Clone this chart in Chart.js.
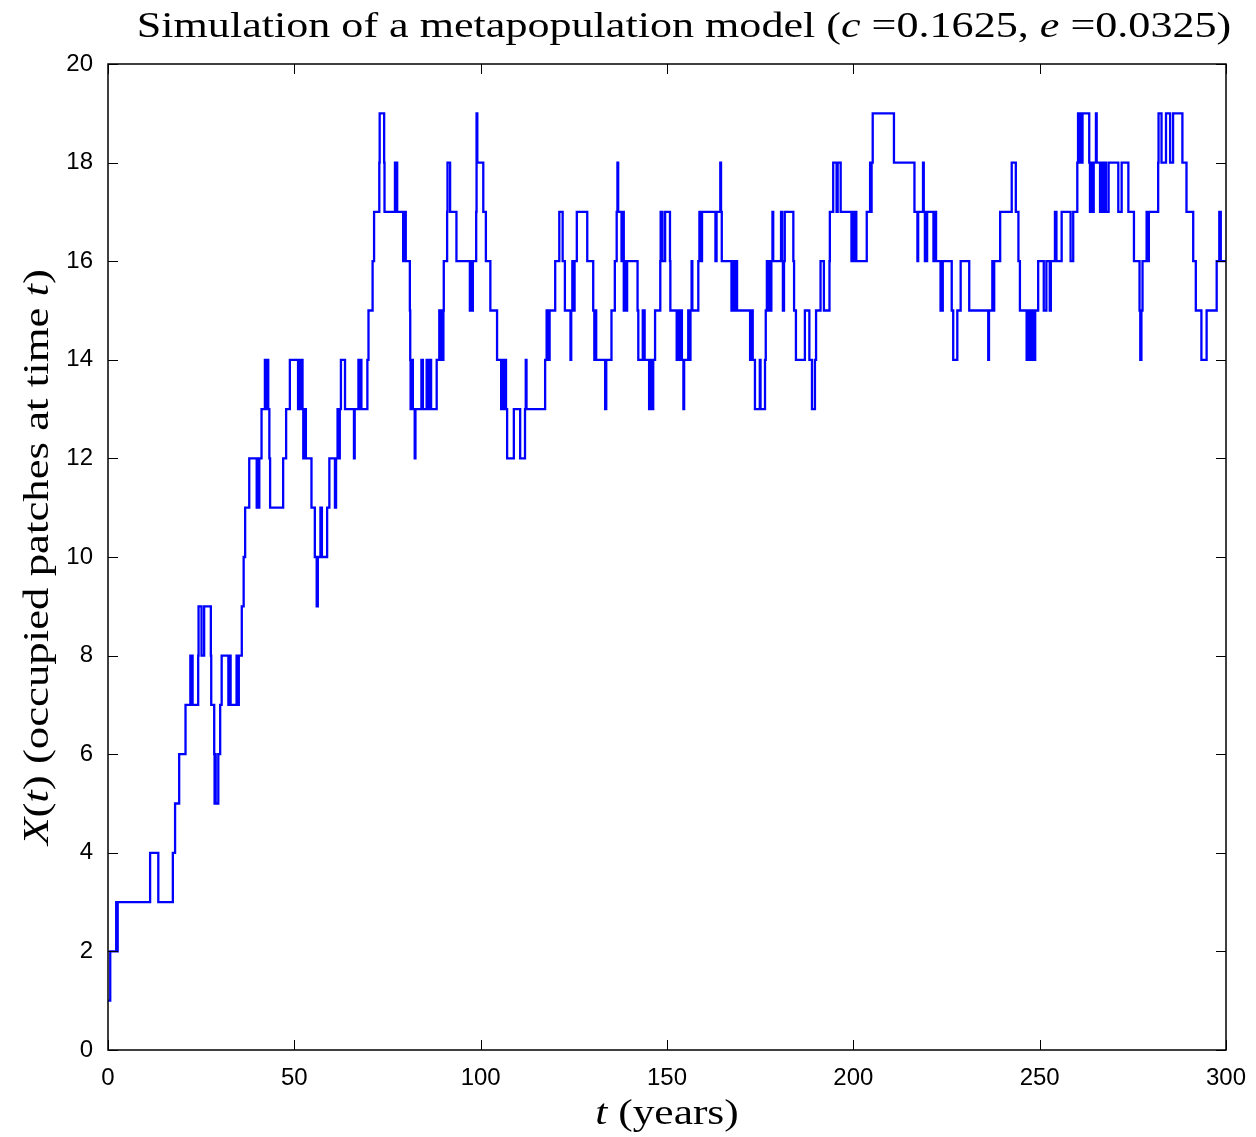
<!DOCTYPE html>
<html>
<head>
<meta charset="utf-8">
<script src="https://cdn.jsdelivr.net/npm/chart.js@4.4.1/dist/chart.umd.min.js"></script>
<style>
  body { margin: 0; background: #fff; }
  #wrap { width: 1256px; height: 1137px; position: relative; }
</style>
</head>
<body>
<div id="wrap"><canvas id="metaChart"></canvas></div>
<script>
// event times (years) and number of occupied patches after each event
var eventTimes = [
  0, 0.6, 2.2, 2.4, 2.6, 11.3, 13.5, 17.4, 18.0, 19.1, 20.8, 22.1, 22.3, 22.5, 22.7,
  24.2, 24.3, 25.1, 25.8, 27.6, 27.7, 28.5, 28.6, 28.8, 28.9, 29.6, 30.1, 30.5,
  32.3, 32.6, 32.9, 34.5, 34.8, 35.1, 35.9, 36.4, 36.8, 37.9, 39.9, 40.2, 40.4,
  40.6, 41.2, 42.1, 42.4, 42.6, 43.0, 43.3, 43.5, 47.0, 47.8, 48.8, 51.0, 51.3,
  51.6, 51.9, 52.2, 52.4, 52.8, 53.1, 54.6, 55.5, 56.0, 56.3, 57.0, 57.4, 58.8,
  59.4, 60.9, 61.2, 61.6, 61.9, 62.2, 62.5, 63.6, 66.0, 66.2, 67.2, 67.5, 67.8,
  68.0, 69.6, 69.9, 71.0, 71.4, 72.8, 72.9, 74.1, 74.2, 77.0, 77.2, 77.4, 77.6,
  79.2, 79.5, 79.9, 81.0, 81.1, 81.2, 81.5, 81.8, 82.3, 82.5, 84.1, 84.5, 85.5,
  85.9, 86.4, 86.7, 88.2, 88.9, 89.2, 89.5, 89.8, 90.0, 90.1, 91.0, 91.1, 91.8,
  93.5, 97.1, 97.4, 97.7, 97.9, 98.8, 98.9, 99.1, 100.7, 101.4, 102.6, 104.4,
  105.5, 105.8, 106.1, 106.4, 106.8, 107.1, 108.9, 110.6, 111.9, 112.1, 112.3,
  117.3, 117.7, 118.1, 118.5, 120.0, 121.1, 122.0, 122.6, 124.1, 124.3, 124.6,
  124.9, 125.2, 125.8, 128.6, 130.2, 130.5, 130.8, 131.0, 133.4, 133.7, 135.1,
  136.0, 136.5, 136.7, 136.9, 137.8, 138.1, 138.4, 138.8, 139.1, 139.3, 142.1,
  142.3, 143.5, 144.0, 145.2, 145.5, 145.9, 146.3, 146.8, 148.2, 148.3, 148.8,
  149.5, 150.8, 150.9, 152.6, 152.9, 153.3, 153.7, 154.0, 154.4, 154.6, 155.7,
  156.0, 156.3, 156.6, 156.8, 158.4, 158.7, 159.0, 159.4, 163.0, 163.3, 164.3,
  164.5, 164.7, 167.3, 167.6, 168.0, 168.4, 168.8, 172.3, 172.6, 173.0, 173.6,
  174.9, 175.1, 176.3, 176.5, 176.8, 177.1, 177.4, 177.7, 178.0, 178.3, 178.5,
  180.6, 180.9, 181.1, 181.4, 181.6, 183.9, 184.1, 184.6, 187.0, 188.2, 188.9,
  189.7, 190.0, 191.2, 192.1, 193.6, 193.7, 194.6, 195.5, 195.8, 196.6, 199.5,
  199.8, 200.2, 200.5, 200.8, 203.6, 204.5, 204.7, 204.9, 205.2, 210.9, 216.4,
  217.2, 217.4, 218.7, 218.9, 219.2, 219.8, 221.5, 221.8, 222.2, 223.4, 224.0,
  226.4, 226.8, 227.9, 228.8, 231.1, 236.2, 236.4, 237.3, 237.6, 237.8, 239.4,
  242.5, 243.6, 244.3, 244.7, 246.5, 247.0, 247.5, 248.0, 248.5, 248.8, 249.6,
  251.1, 251.8, 252.7, 253.0, 254.1, 254.5, 255.9, 258.3, 259.0, 260.1, 260.3,
  260.6, 260.9, 261.2, 261.5, 263.3, 263.5, 263.9, 264.2, 264.5, 265.1, 265.3,
  266.2, 266.6, 267.0, 267.4, 267.8, 268.5, 271.1, 272.0, 273.8, 275.3, 276.8,
  277.0, 277.3, 277.6, 278.7, 279.0, 279.3, 281.8, 281.9, 282.7, 283.9, 285.0,
  285.8, 288.3, 289.4, 291.2, 291.9, 293.4, 294.8, 297.5, 298.2, 298.6, 300
];
var patchCounts = [
  1, 2, 3, 2, 3, 4, 3, 4, 5, 6, 7, 8, 7, 8, 7,
  8, 9, 8, 9, 8, 7, 6, 5, 6, 5, 6, 7, 8,
  7, 8, 7, 8, 7, 8, 9, 10, 11, 12, 11, 12, 11,
  12, 13, 14, 13, 14, 13, 12, 11, 12, 13, 14, 13, 14,
  13, 14, 13, 12, 13, 12, 11, 10, 9, 10, 11, 10, 11,
  12, 11, 12, 13, 12, 13, 14, 13, 12, 13, 14, 13, 14,
  13, 14, 15, 16, 17, 18, 19, 18, 17, 18, 17, 18, 17,
  16, 17, 16, 15, 14, 13, 14, 13, 12, 13, 14, 13, 14,
  13, 14, 13, 14, 15, 14, 15, 14, 15, 16, 17, 18, 17,
  16, 15, 16, 15, 16, 17, 19, 18, 17, 16, 15, 14,
  13, 14, 13, 14, 13, 12, 13, 12, 13, 14, 13,
  14, 15, 14, 15, 16, 17, 16, 15, 14, 15, 16,
  15, 16, 17, 16, 15, 14, 15, 14, 13, 14, 15,
  16, 17, 18, 17, 16, 17, 15, 16, 15, 16, 15,
  14, 15, 14, 13, 14, 13, 14, 15, 16, 17, 16,
  17, 16, 15, 14, 15, 14, 15, 14, 13, 14, 15,
  14, 15, 16, 15, 16, 17, 16, 17, 16, 17, 18,
  17, 16, 15, 16, 15, 16, 15, 14, 15, 14, 13,
  14, 13, 14, 15, 16, 15, 16, 15, 16, 17, 16,
  17, 16, 15, 16, 17, 16, 15, 14, 15, 14, 13,
  14, 15, 16, 15, 16, 17, 18, 17, 18, 17, 16,
  17, 16, 17, 16, 17, 18, 17, 18, 19, 18, 17,
  16, 17, 18, 17, 16, 17, 16, 17, 16, 15, 16,
  15, 14, 15, 16, 15, 14, 15, 16, 15, 16, 17,
  18, 17, 16, 15, 14, 15, 14, 15, 14, 15, 16,
  15, 16, 15, 16, 17, 16, 17, 16, 17, 18, 19,
  18, 19, 18, 19, 18, 17, 18, 17, 18, 19, 18,
  17, 18, 17, 18, 17, 18, 17, 18, 17, 16, 15,
  14, 15, 16, 17, 16, 17, 18, 19, 18, 19, 18,
  19, 18, 17, 16, 15, 14, 15, 16, 17, 16, 16
];
var xRange = [0, 300];
var yRange = [0, 20];

var titleParts = [["Simulation of a metapopulation model (", false], ["c", true], [" =0.1625, ", false], ["e", true], [" =0.0325)", false]];
var yTitleParts = [["X", true], ["(", false], ["t", true], [") (occupied patches at time ", false], ["t", true], [")", false]];
var xTitleParts = [["t", true], [" (years)", false]];

var serif = "'Liberation Serif', 'DejaVu Serif', serif";

// draws a label made of regular and italic pieces, centred on (0,0);
// stretched sideways a bit since Times is narrower than the LaTeX font
var drawRich = function (ctx, parts, size, stretch) {
    var widths = [], total = 0;
    parts.forEach(function (p) {
        ctx.font = (p[1] ? "italic " : "") + size + "px " + serif;
        var w = ctx.measureText(p[0]).width;
        widths.push(w);
        total += w;
    });
    ctx.scale(stretch, 1);
    var x = -total / 2;
    ctx.textAlign = "left";
    ctx.textBaseline = "alphabetic";
    parts.forEach(function (p, i) {
        ctx.font = (p[1] ? "italic " : "") + size + "px " + serif;
        ctx.fillText(p[0], x, 0);
        x += widths[i];
    });
};

var matlabFrame = {
    id: "matlabFrame",
    afterDraw: function (chart) {
        var ctx = chart.ctx, a = chart.chartArea;
        var xs = chart.scales.x, ys = chart.scales.y;
        ctx.save();
        ctx.strokeStyle = "#000";
        ctx.lineWidth = 1;
        ctx.beginPath();
        xs.ticks.forEach(function (t) {
            var px = Math.round(xs.getPixelForValue(t.value)) + 0.5;
            ctx.moveTo(px, a.bottom); ctx.lineTo(px, a.bottom - 10);
            ctx.moveTo(px, a.top); ctx.lineTo(px, a.top + 10);
        });
        ys.ticks.forEach(function (t) {
            var py = Math.round(ys.getPixelForValue(t.value)) + 0.5;
            ctx.moveTo(a.left, py); ctx.lineTo(a.left + 10, py);
            ctx.moveTo(a.right, py); ctx.lineTo(a.right - 10, py);
        });
        ctx.stroke();
        ctx.lineWidth = 1.5;
        ctx.strokeRect(a.left, a.top, a.right - a.left, a.bottom - a.top);

        ctx.fillStyle = "#000";
        ctx.save();
        ctx.translate(684, 37);
        drawRich(ctx, titleParts, 35, 1.26);
        ctx.restore();

        ctx.save();
        ctx.translate((a.left + a.right) / 2, 1124);
        drawRich(ctx, xTitleParts, 35, 1.24);
        ctx.restore();

        ctx.save();
        ctx.translate(48, (a.top + a.bottom) / 2);
        ctx.rotate(-Math.PI / 2);
        drawRich(ctx, yTitleParts, 35, 1.28);
        ctx.restore();
        ctx.restore();
    }
};

var points = eventTimes.map(function (t, i) {
    return { x: t, y: patchCounts[i] };
});

var tickFont = { family: "'Liberation Sans', Arial, sans-serif", size: 24 };

new Chart(document.getElementById("metaChart"), {
    type: "line",
    data: {
        datasets: [{
            data: points,
            stepped: true,
            borderColor: "#0000ff",
            borderWidth: 2.3,
            pointRadius: 0,
            fill: false
        }]
    },
    options: {
        responsive: true,
        maintainAspectRatio: false,
        animation: false,
        layout: { padding: { top: 64, right: 30, left: 0, bottom: 0 } },
        plugins: { legend: { display: false }, tooltip: { enabled: false } },
        scales: {
            x: {
                type: "linear",
                min: xRange[0],
                max: xRange[1],
                grid: { display: false },
                border: { display: false },
                ticks: { stepSize: 50, color: "#000", font: tickFont, padding: 6, maxRotation: 0 },
                afterFit: function (scale) { scale.height = 87; }
            },
            y: {
                min: yRange[0],
                max: yRange[1],
                grid: { display: false },
                border: { display: false },
                ticks: { stepSize: 2, color: "#000", font: tickFont, padding: 7 },
                afterFit: function (scale) { scale.width = 108; }
            }
        }
    },
    plugins: [matlabFrame]
});
</script>
</body>
</html>
